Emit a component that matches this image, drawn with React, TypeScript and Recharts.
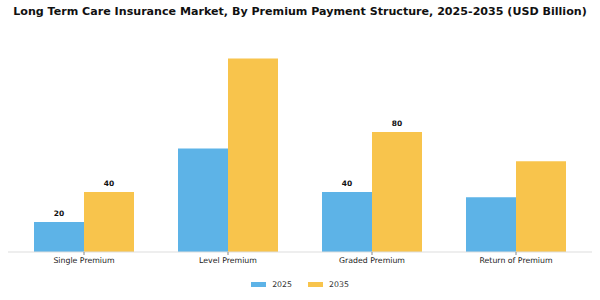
import React from "react";
import { BarChart, Bar, XAxis, YAxis, Legend, LabelList } from "recharts";

const categories = ["Single Premium", "Level Premium", "Graded Premium", "Return of Premium"];
const values2025 = [20, 69, 40, 36.5];
const values2035 = [40, 129, 80, 60.5];
const labels2025: (number | null)[] = [20, null, 40, null];
const labels2035: (number | null)[] = [40, null, 80, null];

const data = categories.map((c, i) => ({
  name: c,
  v2025: values2025[i],
  v2035: values2035[i],
  l2025: labels2025[i],
  l2035: labels2035[i],
}));

const BLUE = "#5DB3E7";
const YELLOW = "#F8C44C";
const FONT = "'DejaVu Sans', sans-serif";

const renderLabel = (props: any) => {
  const { x, y, width, value } = props;
  if (value === null || value === undefined) return null;
  return (
    <text
      x={x + width / 2}
      y={y - 6}
      textAnchor="middle"
      fontFamily={FONT}
      fontWeight="bold"
      fontSize={7.5}
      fill="#111"
    >
      {value}
    </text>
  );
};

const renderLegend = () => (
  <div
    style={{
      display: "flex",
      justifyContent: "center",
      alignItems: "center",
      fontFamily: FONT,
      fontSize: 7.8,
      color: "#333",
    }}
  >
    {[
      { c: BLUE, t: "2025" },
      { c: YELLOW, t: "2035" },
    ].map((it, i) => (
      <div key={i} style={{ display: "flex", alignItems: "center", marginLeft: i ? 16 : 0 }}>
        <span style={{ display: "inline-block", width: 15, height: 5, background: it.c, marginRight: 6 }} />
        <span>{it.t}</span>
      </div>
    ))}
  </div>
);

export default function App() {
  return (
    <div style={{ position: "absolute", left: 0, top: 0, width: 600, height: 300, background: "#fff" }}>
      <div
        style={{
          position: "absolute",
          left: 0,
          top: 5,
          width: 600,
          textAlign: "center",
          whiteSpace: "nowrap",
          fontFamily: FONT,
          fontWeight: "bold",
          fontSize: 11.1,
          color: "#111",
          zIndex: 2,
        }}
      >
        Long Term Care Insurance Market, By Premium Payment Structure, 2025-2035 (USD Billion)
      </div>
      <BarChart
        width={600}
        height={300}
        data={data}
        margin={{ top: 42, right: 8, left: 8, bottom: 0 }}
        barCategoryGap={22}
        barGap={0}
      >
        <YAxis hide domain={[0, 140]} />
        <XAxis
          dataKey="name"
          height={39}
          padding={{ left: 4, right: 4 }}
          axisLine={{ stroke: "#DDDDDD" }}
          tickLine={{ stroke: "#888" }}
          tickSize={3}
          tick={{ fontFamily: FONT, fontSize: 7.8, fill: "#222" }}
          interval={0}
        />
        <Legend
          verticalAlign="bottom"
          height={0}
          content={renderLegend}
          wrapperStyle={{ top: 280, left: 0, width: 600, bottom: "auto" }}
        />
        <Bar dataKey="v2025" name="2025" fill={BLUE} isAnimationActive={false}>
          <LabelList dataKey="l2025" content={renderLabel} />
        </Bar>
        <Bar dataKey="v2035" name="2035" fill={YELLOW} isAnimationActive={false}>
          <LabelList dataKey="l2035" content={renderLabel} />
        </Bar>
      </BarChart>
    </div>
  );
}
